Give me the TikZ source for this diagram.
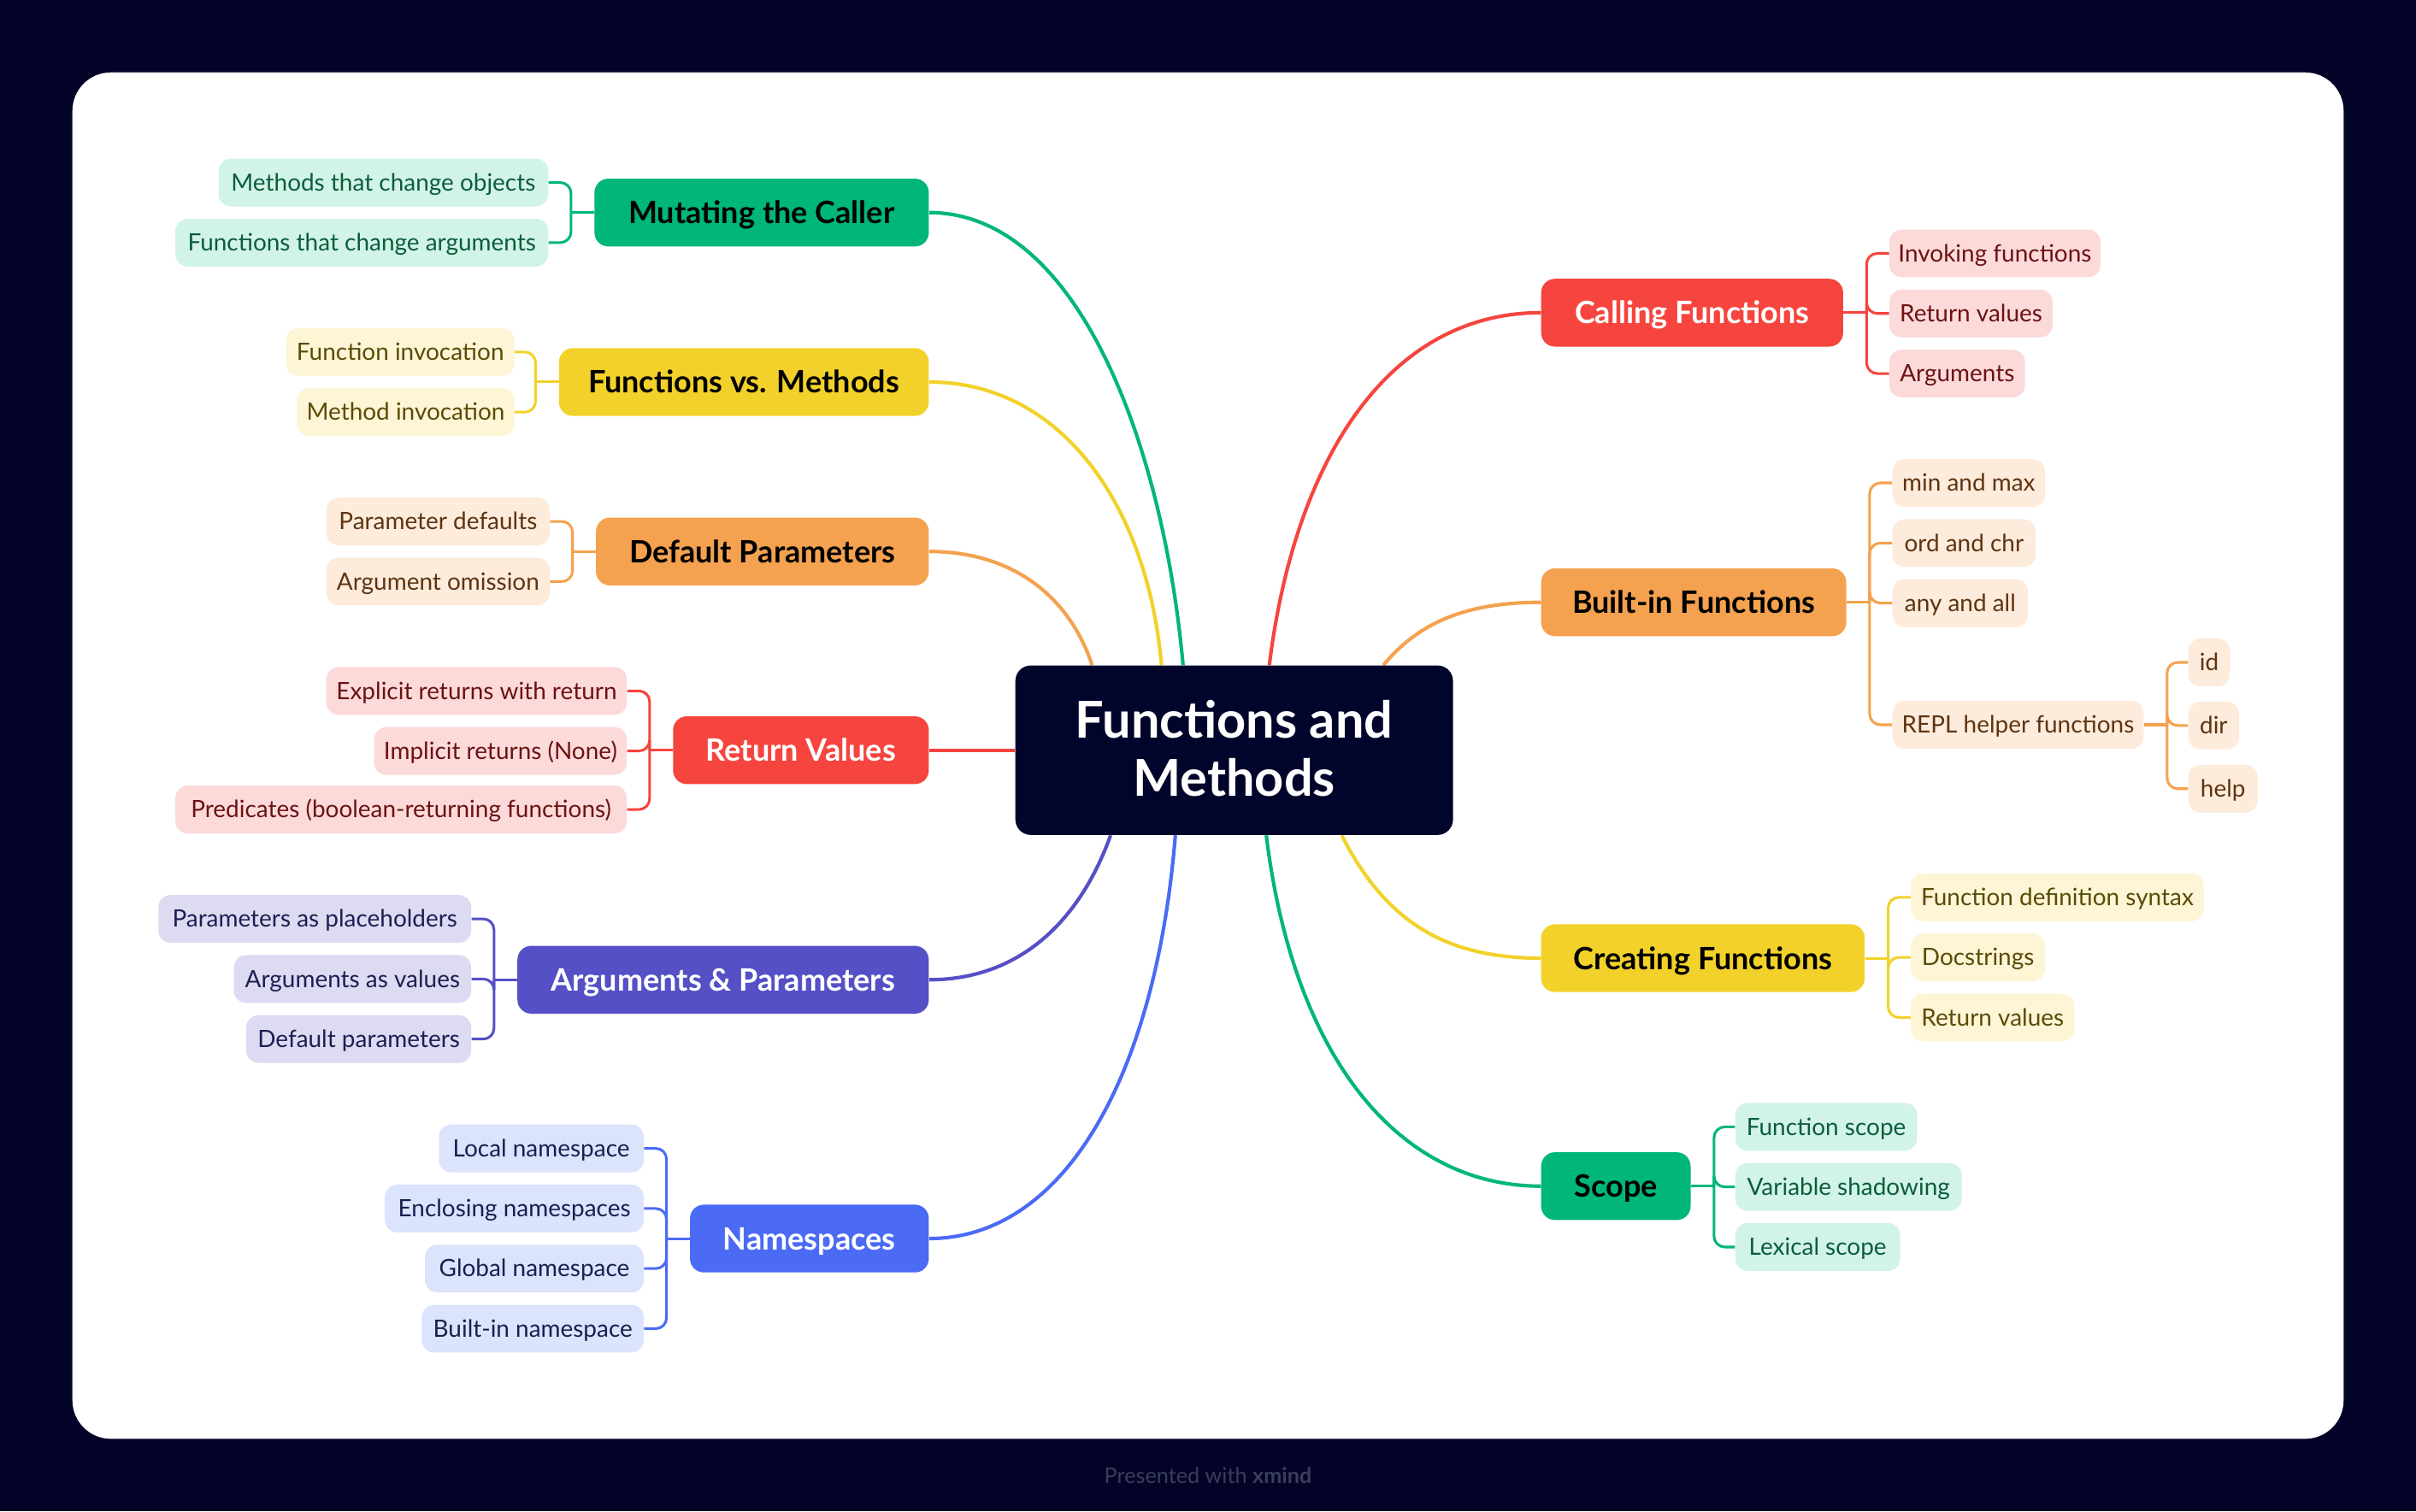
\documentclass[tikz,border=0pt]{standalone}
\usepackage{fontspec}
\setmainfont{Lato}
\usetikzlibrary{calc}
\pgfdeclarelayer{bg}
\pgfdeclarelayer{edges}
\pgfsetlayers{bg,edges,main}
\definecolor{bgnavy}{HTML}{020327}
\definecolor{cnavy}{HTML}{02052B}
\definecolor{footc}{HTML}{3B3D5C}
\definecolor{gC}{HTML}{00B67A}\definecolor{gL}{HTML}{D1F4E6}\definecolor{gD}{HTML}{0B5C3E}
\definecolor{yC}{HTML}{F2D22A}\definecolor{yL}{HTML}{FDF5D5}\definecolor{yD}{HTML}{5A4B07}
\definecolor{oC}{HTML}{F4A24F}\definecolor{oL}{HTML}{FDEBDC}\definecolor{oD}{HTML}{5E3411}
\definecolor{rC}{HTML}{F5453E}\definecolor{rL}{HTML}{FDDADA}\definecolor{rD}{HTML}{6B1312}
\definecolor{pC}{HTML}{5550C6}\definecolor{pL}{HTML}{DCDBF2}\definecolor{pD}{HTML}{1F1D52}
\definecolor{bC}{HTML}{4B6BF5}\definecolor{bL}{HTML}{DCE3FD}\definecolor{bD}{HTML}{16224F}
\tikzset{
  sub/.style={rounded corners=8pt, minimum height=31pt, inner xsep=5pt, inner ysep=0pt,
    text height=13pt, text depth=2.2pt, font=\fontsize{15.5}{18}\selectfont},
  gsub/.style={sub, fill=gL, text=gD},
  ysub/.style={sub, fill=yL, text=yD},
  osub/.style={sub, fill=oL, text=oD},
  rsub/.style={sub, fill=rL, text=rD},
  psub/.style={sub, fill=pL, text=pD},
  bsub/.style={sub, fill=bL, text=bD},
  topic/.style={rounded corners=9pt, minimum height=44pt, inner xsep=6pt, inner ysep=0pt,
    text height=17pt, text depth=2.6pt, font=\bfseries\fontsize{20}{24}\selectfont},
  link/.style={line width=1.7pt, rounded corners=7pt},
  curve/.style={line width=2.3pt},
}
\begin{document}
\begin{tikzpicture}[x=1pt,y=-1pt]
\useasboundingbox (0,0) rectangle (1568,981);
\begin{pgfonlayer}{bg}
\fill[bgnavy] (0,0) rectangle (1568,981);
\fill[white, rounded corners=25pt] (47,47) rectangle (1521,934);
\end{pgfonlayer}

% central
\node[fill=cnavy, rounded corners=10pt, minimum width=284pt, minimum height=110pt, text=white,
  align=center, font=\bfseries\fontsize{33}{37.5}\selectfont] (C) at (801,487) {\raisebox{2.5pt}{Functions and}\\\raisebox{2.5pt}{Methods}};

% left topics
\node[topic, fill=gC, text=black, minimum width=217pt, anchor=east] (T1) at (603,138) {Mutating the Caller};
\node[topic, fill=yC, text=black, minimum width=240pt, anchor=east] (T2) at (603,248) {Functions vs. Methods};
\node[topic, fill=oC, text=black, minimum width=216pt, anchor=east] (T3) at (603,358) {Default Parameters};
\node[topic, fill=rC, text=white, minimum width=166pt, anchor=east] (T4) at (603,487) {Return Values};
\node[topic, fill=pC, text=white, minimum width=267pt, anchor=east] (T5) at (603,636) {Arguments \& Parameters};
\node[topic, fill=bC, text=white, minimum width=155pt, anchor=east] (T6) at (603,804) {Namespaces};
% right topics
\node[topic, fill=rC, text=white, minimum width=196pt, anchor=west] (T7) at (1000,203) {Calling Functions};
\node[topic, fill=oC, text=black, minimum width=198pt, anchor=west] (T8) at (1000,391) {Built-in Functions};
\node[topic, fill=yC, text=black, minimum width=210pt, anchor=west] (T9) at (1000,622) {Creating Functions};
\node[topic, fill=gC, text=black, minimum width=97pt, anchor=west] (T10) at (1000,770) {Scope};

% left subtopics
\node[gsub, minimum width=214pt, anchor=east] (m1) at (356,118.5) {Methods that change objects};
\node[gsub, minimum width=242pt, anchor=east] (m2) at (356,157.5) {Functions that change arguments};
\node[ysub, minimum width=148pt, anchor=east] (f1) at (334,228.5) {Function invocation};
\node[ysub, minimum width=141pt, anchor=east] (f2) at (334,267.5) {Method invocation};
\node[osub, minimum width=145pt, anchor=east] (d1) at (357,338.5) {Parameter defaults};
\node[osub, minimum width=145pt, anchor=east] (d2) at (357,377.5) {Argument omission};
\node[rsub, minimum width=195pt, anchor=east] (r1) at (407,448.5) {Explicit returns with return};
\node[rsub, minimum width=164pt, anchor=east] (r2) at (407,487.5) {Implicit returns (None)};
\node[rsub, minimum width=293pt, anchor=east] (r3) at (407,525.5) {Predicates (boolean-returning functions)};
\node[psub, minimum width=203pt, anchor=east] (a1) at (306,596.5) {Parameters as placeholders};
\node[psub, minimum width=154pt, anchor=east] (a2) at (306,635.5) {Arguments as values};
\node[psub, minimum width=146pt, anchor=east] (a3) at (306,674.5) {Default parameters};
\node[bsub, minimum width=133pt, anchor=east] (n1) at (418,745.5) {Local namespace};
\node[bsub, minimum width=168pt, anchor=east] (n2) at (418,784.5) {Enclosing namespaces};
\node[bsub, minimum width=142pt, anchor=east] (n3) at (418,823.5) {Global namespace};
\node[bsub, minimum width=144pt, anchor=east] (n4) at (418,862.5) {Built-in namespace};

% right subtopics
\node[rsub, minimum width=137pt, anchor=west] (c1) at (1226,164.5) {Invoking functions};
\node[rsub, minimum width=106pt, anchor=west] (c2) at (1226,203.5) {Return values};
\node[rsub, minimum width=88pt, anchor=west] (c3) at (1226,242.5) {Arguments};
\node[osub, minimum width=99pt, anchor=west] (b1) at (1228,313.5) {min and max};
\node[osub, minimum width=93pt, anchor=west] (b2) at (1228,352.5) {ord and chr};
\node[osub, minimum width=88pt, anchor=west] (b3) at (1228,391.5) {any and all};
\node[osub, minimum width=163pt, anchor=west] (b4) at (1228,470.5) {REPL helper functions};
\node[osub, minimum width=27pt, anchor=west] (i1) at (1420,430) {id};
\node[osub, minimum width=33pt, anchor=west] (i2) at (1420,471) {dir};
\node[osub, minimum width=45pt, anchor=west] (i3) at (1420,512) {help};
\node[ysub, minimum width=190pt, anchor=west] (k1) at (1240,582.5) {Function definition syntax};
\node[ysub, minimum width=87pt, anchor=west] (k2) at (1240,621.5) {Docstrings};
\node[ysub, minimum width=106pt, anchor=west] (k3) at (1240,660.5) {Return values};
\node[gsub, minimum width=118pt, anchor=west] (s1) at (1126,731.5) {Function scope};
\node[gsub, minimum width=147pt, anchor=west] (s2) at (1126,770.5) {Variable shadowing};
\node[gsub, minimum width=107pt, anchor=west] (s3) at (1126,809.5) {Lexical scope};

% footer
\node[font=\fontsize{14}{16}\selectfont, text=footc] (foot) at (784,958) {Presented with \textbf{xmind}};

\begin{pgfonlayer}{edges}
% main curves
\draw[curve, gC] ($(C.north west)+(109,0)$) .. controls (755,290) and (700,138) .. (T1.east);
\draw[curve, yC] ($(C.north west)+(95,0)$) .. controls (745,330) and (690,248) .. (T2.east);
\draw[curve, oC] ($(C.north west)+(50,0)$) .. controls (695,390) and (660,358) .. (T3.east);
\draw[curve, rC] (C.west) -- (T4.east);
\draw[curve, pC] ($(C.south west)+(62,0)$) .. controls (700,600) and (660,636) .. (T5.east);
\draw[curve, bC] ($(C.south west)+(104,0)$) .. controls (750,700) and (690,804) .. (T6.east);
\draw[curve, rC] ($(C.north west)+(165,0)$) .. controls (840,300) and (900,203) .. (T7.west);
\draw[curve, oC] ($(C.north west)+(239,0)$) .. controls (920,405) and (950,391) .. (T8.west);
\draw[curve, yC] ($(C.south west)+(212,0)$) .. controls (900,600) and (940,622) .. (T9.west);
\draw[curve, gC] ($(C.south west)+(163,0)$) .. controls (840,690) and (910,770) .. (T10.west);

% left brackets
\foreach \t/\c/\k in {T1/gC/m1, T1/gC/m2, T2/yC/f1, T2/yC/f2, T3/oC/d1, T3/oC/d2,
  T4/rC/r1, T4/rC/r2, T4/rC/r3, T5/pC/a1, T5/pC/a2, T5/pC/a3,
  T6/bC/n1, T6/bC/n2, T6/bC/n3, T6/bC/n4}{
  \draw[link, \c] (\k.east) -| ($(\t.west)+(-15,0)$);
  \draw[link, \c] (\t.west) -- ++(-15,0);
}
% right brackets
\foreach \t/\c/\k in {T7/rC/c1, T7/rC/c2, T7/rC/c3, T8/oC/b1, T8/oC/b2, T8/oC/b3, T8/oC/b4,
  T9/yC/k1, T9/yC/k2, T9/yC/k3, T10/gC/s1, T10/gC/s2, T10/gC/s3, b4/oC/i1, b4/oC/i2, b4/oC/i3}{
  \draw[link, \c] (\k.west) -| ($(\t.east)+(15,0)$);
  \draw[link, \c] (\t.east) -- ++(15,0);
}
\end{pgfonlayer}
\end{tikzpicture}
\end{document}
